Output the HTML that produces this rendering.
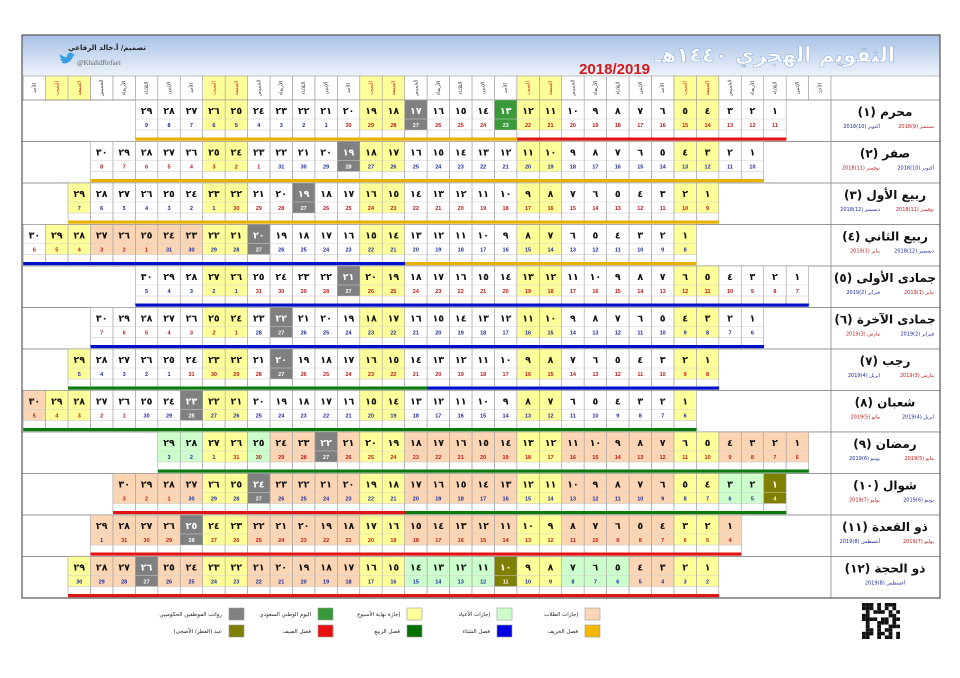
<!DOCTYPE html>
<html><head><meta charset="utf-8">
<style>
html,body{margin:0;padding:0;background:#fff;}
svg{display:block;font-family:"DejaVu Sans","Liberation Sans",sans-serif;}
</style></head>
<body>
<svg id="cal" width="960" height="678" viewBox="0 0 960 678" xmlns="http://www.w3.org/2000/svg">
<defs>
<linearGradient id="hg" x1="0" y1="0" x2="0" y2="1">
<stop offset="0" stop-color="#a7c1e6"/><stop offset="1" stop-color="#eef3fb"/>
</linearGradient>
</defs>
<rect x="0" y="0" width="960" height="678" fill="#fff"/>
<g>
<rect x="22" y="35" width="918" height="41" fill="url(#hg)"/>
<text x="895" y="62" text-anchor="end" font-size="21" font-weight="bold" fill="#fff" stroke="#8fb0dc" stroke-width="0.6">التقويم الهجري ١٤٤٠هـ</text>
<text x="650" y="74" text-anchor="end" font-family="Liberation Sans, sans-serif" font-size="15" font-weight="bold" fill="#d41818">2018/2019</text>
<text x="146" y="50" text-anchor="end" font-size="7" font-weight="bold" fill="#222">تصميم/ أ.خالد الرفاعي</text>
<path d="M60 62 q4 3 9 0 q3-2 4-6 l2-2 -2 0 q-1-2-4-1 q-2 1-2 4 q-4 0-7-3 q-1 3 2 5 l-2 0 q1 2 3 3 q-2 1-3 0z" fill="#3aa0e8"/>
<text x="77" y="65" font-family="Liberation Serif, serif" font-size="7" fill="#666">@KhalidRefaei</text>
</g>
<g id="grid"></g>
<g id="legend"></g>
<rect x="22" y="35" width="918" height="563" fill="none" stroke="#555" stroke-width="1.2"/>
</svg>
<script>
const NS = "http://www.w3.org/2000/svg";
// ---- data ----
const monthNames = ["محرم (١)","صفر (٢)","ربيع الأول (٣)","ربيع الثاني (٤)","جمادى الأولى (٥)","جمادى الآخرة (٦)","رجب (٧)","شعبان (٨)","رمضان (٩)","شوال (١٠)","ذو القعدة (١١)","ذو الحجة (١٢)"];
const startCol = [2,3,5,6,1,3,5,6,1,2,4,5];
const monthLen = [29,30,29,30,30,30,29,30,29,30,29,29];
const gregStartYear = [2018,2018,2018,2018,2019,2019,2019,2019,2019,2019,2019,2019];
const gregStartMonth = [9,10,11,12,1,2,3,4,5,6,7,8];
const gregStartDay = [11,10,9,8,7,6,8,6,6,4,4,2];
const salaryDay = [17,19,19,20,21,22,20,23,22,24,25,26];
const nationalDay = [[13],[],[],[],[],[],[],[],[],[],[],[]];
const eidDays = [[],[],[],[],[],[],[],[],[],[1],[],[10]];
const holidayDays = [[],[],[],[],[],[],[],[],[25,28,29],[2,3],[],[5,6,7,11,12,13,14]];
const studentVacation = [[],[],[],[23,24,25,26,27],[],[],[],[30],
  [1,2,3,4,5,6,7,8,9,10,11,12,13,14,15,16,17,18,19,20,21,22,23,24],
  [6,7,8,9,10,11,12,13,14,15,16,17,18,19,20,21,22,23,24,25,26,27,28,29,30],
  [1,2,3,4,5,6,7,8,9,10,11,12,13,14,15,16,17,18,19,20,21,22,23,24,25,26,27,28,29],
  [3,4,17,18,19,20,21,22,23,24,25,26,27,28,29]];
const dayNames = ["الأحد","الإثنين","الثلاثاء","الأربعاء","الخميس","الجمعة","السبت"];
const gregMonthNames = ["يناير","فبراير","مارس","ابريل","مايو","يونيو","يوليو","أغسطس","سبتمبر","أكتوبر","نوفمبر","ديسمبر"];
const legendLabels = ["إجازات الطلاب","إجازات الأعياد","إجازة نهاية الأسبوع","اليوم الوطني السعودي","رواتب الموظفين الحكوميين","فصل الخريف","فصل الشتاء","فصل الربيع","فصل الصيف","عيد (الفطر/ الأضحى)"];
const legendColors = ["#fcd5b4","#ccffcc","#ffff99","#3a9a3a","#808080","#f5b800","#0000e0","#007000","#e81010","#7f7f00"];
// ---- layout ----
const GX = 831, CW = 22.44, TOP = 100, RH = 41.5;
const colX = c => GX - (c+1)*CW;
const rowY = m => TOP + m*RH;
const ar = n => String(n).replace(/\d/g, d => "٠١٢٣٤٥٦٧٨٩"[d]);
const grid = document.getElementById("grid");
function mk(tag, attrs, parent, txt){
  const e = document.createElementNS(NS, tag);
  for (const k in attrs) e.setAttribute(k, attrs[k]);
  if (txt !== undefined) e.textContent = txt;
  (parent||grid).appendChild(e); return e;
}
function seasonColor(dt){
  const md = (dt.getMonth()+1)*100 + dt.getDate();
  if (md >= 621 && md <= 922) return "#e01515";
  if (md >= 923 && md <= 1220) return "#e8b000";
  if (md >= 321 && md <= 620) return "#0a7a0a";
  return "#0010c8";
}
// day header
for (let c=0;c<36;c++){
  const wd = c%7, wk = wd===5||wd===6;
  const g = mk("g",{});
  
  
  mk("rect",{x:colX(c),y:76,width:CW,height:24,fill:wk?"#ffff99":"#fff",stroke:"#999","stroke-width":0.6},g);
  const cx = colX(c)+CW/2;
  mk("text",{x:0,y:0,"font-size":5,"text-anchor":"middle",fill:wk?"#d01010":"#333",
    transform:`translate(${cx+1.5},88) rotate(-90)`},g,dayNames[wd]);
}
mk("rect",{x:GX,y:76,width:109,height:24,fill:"#fff",stroke:"#999","stroke-width":0.6});
// months
for (let m=0;m<12;m++){
  const y = rowY(m);
  const row = mk("g",{});
  
  
  mk("rect",{x:22,y:y,width:918,height:RH,fill:"#fff",stroke:"#888","stroke-width":0.8},row);
  mk("line",{x1:GX,y1:y,x2:GX,y2:y+RH,stroke:"#888","stroke-width":0.8},row);
  const start = new Date(gregStartYear[m], gregStartMonth[m]-1, gregStartDay[m]);
  for (let d=1; d<=monthLen[m]; d++){
    const c = startCol[m]+d-1, x = colX(c), wd = c%7;
    const dt = new Date(start.getTime()); dt.setDate(start.getDate()+d-1);
    let fill = "#fff", txt = "#111";
    if (studentVacation[m].includes(d)) fill = "#fcd5b4";
    if (wd===5||wd===6) fill = "#ffff99";
    if (holidayDays[m].includes(d)) fill = "#ccffcc";
    if (nationalDay[m].includes(d)) { fill = "#3a9a3a"; txt="#fff"; }
    if (eidDays[m].includes(d)) { fill = "#7f7f00"; txt="#fff"; }
    if (salaryDay[m]===d) { fill = "#808080"; txt="#fff"; }
    const cell = mk("g",{},row);
    
    
    mk("rect",{x:x,y:y,width:CW,height:30,fill:fill},cell);
    mk("rect",{x:x,y:y,width:CW,height:38.5,fill:"none",stroke:"#a0a0a0","stroke-width":0.6},cell);
    mk("line",{x1:x,y1:y+19,x2:x+CW,y2:y+19,stroke:"#d0d0d0","stroke-width":0.5},cell);
    mk("line",{x1:x,y1:y+30,x2:x+CW,y2:y+30,stroke:"#c0c0c0","stroke-width":0.5},cell);
    mk("text",{x:x+CW/2,y:y+14,"text-anchor":"middle","font-size":9.5,"font-weight":"bold",fill:txt},cell,ar(d));
    const gm = dt.getMonth()+1;
    const gc = txt==="#fff" ? "#fff" : (gm%2 ? "#c01818" : "#1a2aa0");
    mk("text",{x:x+CW/2,y:y+27,"text-anchor":"middle","font-size":5.5,"font-family":"Liberation Sans, sans-serif","font-weight":"bold",fill:gc},cell,String(dt.getDate()));
    const sl = mk("rect",{x:x,y:y+37.5,width:CW+0.3,height:3.2,fill:seasonColor(dt)},cell);
    
    
  }
  // label
  const lab = mk("text",{x:885,y:y+16,"text-anchor":"middle","font-size":12,"font-weight":"bold",fill:"#111"},row,monthNames[m]);
  
  
  const end = new Date(start.getTime()); end.setDate(start.getDate()+monthLen[m]-1);
  const g1 = start.getMonth()+1, g2 = end.getMonth()+1;
  const lbl = (gm, yr) => gregMonthNames[gm-1]+" ("+gm+")"+yr;
  const col = gm => gm%2 ? "#c01818" : "#1a2aa0";
  if (g1!==g2){
    mk("text",{x:934,y:y+28,"text-anchor":"end","font-size":5,fill:col(g1)},row,lbl(g1,start.getFullYear()));
    mk("text",{x:880,y:y+28,"text-anchor":"end","font-size":5,fill:col(g2)},row,lbl(g2,end.getFullYear()));
  } else {
    mk("text",{x:885,y:y+28,"text-anchor":"middle","font-size":5,fill:col(g1)},row,lbl(g1,start.getFullYear()));
  }
}
// legend
const leg = document.getElementById("legend");
const legX = [585,497,407,318,229];
for (let i=0;i<legendLabels.length;i++){
  const r = Math.floor(i/5), k = i%5;
  const x = legX[k], y = 608 + r*17;
  const g = mk("g",{},leg);
  
  
  mk("rect",{x:x,y:y,width:15,height:12,fill:legendColors[i],stroke:"#999","stroke-width":0.6},g);
  mk("text",{x:x-7,y:y+8,"text-anchor":"end","font-size":5.5,fill:"#222"},g,legendLabels[i]);
}
// QR placeholder
const qr = mk("g",{},leg);


const qrBits = "1110101110111010101001011101011100000110111101101101001110100100100111011010110011101101011100101101101010111101";
for (let i=0;i<100;i++){
  if (qrBits[i%qrBits.length]==="1") mk("rect",{x:862+(i%10)*3.8,y:603+Math.floor(i/10)*3.6,width:3.8,height:3.6,fill:"#111"},qr);
}
</script>
</body></html>
